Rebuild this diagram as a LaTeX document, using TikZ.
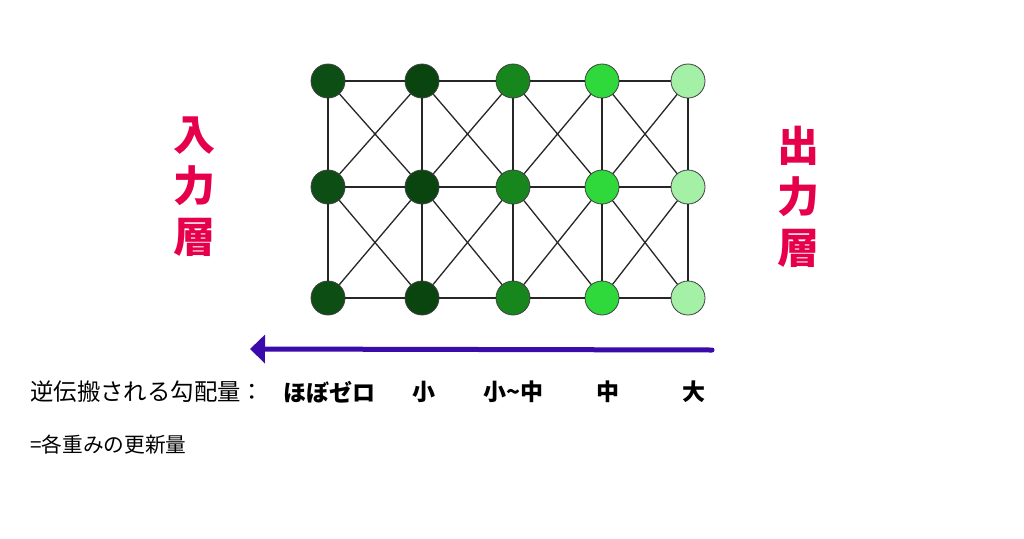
\documentclass[tikz,border=0pt]{standalone}
\usepackage{fontspec}
\newfontfamily\jp{Noto Sans CJK JP}
\usetikzlibrary{arrows.meta}
\definecolor{gA}{HTML}{0C4E13}
\definecolor{gB}{HTML}{0A4510}
\definecolor{gC}{HTML}{17871D}
\definecolor{gD}{HTML}{2FD93B}
\definecolor{gE}{HTML}{A4F0A7}
\definecolor{layerred}{HTML}{E6004C}
\definecolor{arrowblue}{HTML}{3A0AAA}
\tikzset{
  neuron/.style={circle, draw=black!75, line width=0.8pt, minimum size=34pt, inner sep=0pt},
  link/.style={draw=black!85, line width=1.3pt},
  layerlabel/.style={text=layerred, font=\jp\bfseries\fontsize{42}{51}\selectfont, align=center, inner sep=0pt},
  gradlabel/.style={font=\jp\bfseries\fontsize{23}{26}\selectfont, inner sep=0pt},
  plainlabel/.style={font=\jp\fontsize{23.4}{26}\selectfont, inner sep=0pt, anchor=west}
}
\begin{document}
\begin{tikzpicture}[x=1pt,y=-1pt]
\useasboundingbox (0,0) rectangle (1024,538);
\fill[white] (0,0) rectangle (1024,538);
% neurons
\foreach \c/\x/\col in {1/328/gA,2/422/gB,3/513/gC,4/602/gD,5/688/gE}{
  \foreach \r/\y in {1/81,2/187,3/298}{
    \node[neuron, fill=\col] (n\c\r) at (\x,\y) {};
  }
}
% horizontal links
\foreach \r in {1,2,3}{
  \foreach \c/\d in {1/2,2/3,3/4,4/5}{
    \draw[link] (n\c\r) -- (n\d\r);
  }
}
% vertical links
\foreach \c in {1,2,3,4,5}{
  \draw[link] (n\c1) -- (n\c2);
  \draw[link] (n\c2) -- (n\c3);
}
% diagonal links
\foreach \c/\d in {1/2,2/3,3/4,4/5}{
  \foreach \r/\s in {1/2,2/3}{
    \draw[link] (n\c\r) -- (n\d\s);
    \draw[link] (n\d\r) -- (n\c\s);
  }
}
% layer labels
\node[layerlabel] (inlayer) at (194,187) {入\\力\\層};
\node[layerlabel] (outlayer) at (798,197) {出\\力\\層};
% arrow
\coordinate (arrstart) at (712,350);
\coordinate (arrend) at (250,349);
\draw[arrowblue, line width=5pt, line cap=round, -{Triangle[length=15pt,width=28pt,line cap=butt]}] (arrstart) -- (arrend);
% gradient labels
\node[plainlabel] (gradtitle) at (30,392) {逆伝搬される勾配量：};
\node[gradlabel] (g1) at (329,392) {ほぼゼロ};
\node[gradlabel] (g2) at (424,392) {小};
\node[gradlabel] (g3) at (513,392) {小\char`\~中};
\node[gradlabel] (g4) at (608,392) {中};
\node[gradlabel] (g5) at (694,392) {大};
\node[plainlabel, font=\jp\fontsize{20.7}{24}\selectfont] (update) at (30,445) {=各重みの更新量};
\end{tikzpicture}
\end{document}
